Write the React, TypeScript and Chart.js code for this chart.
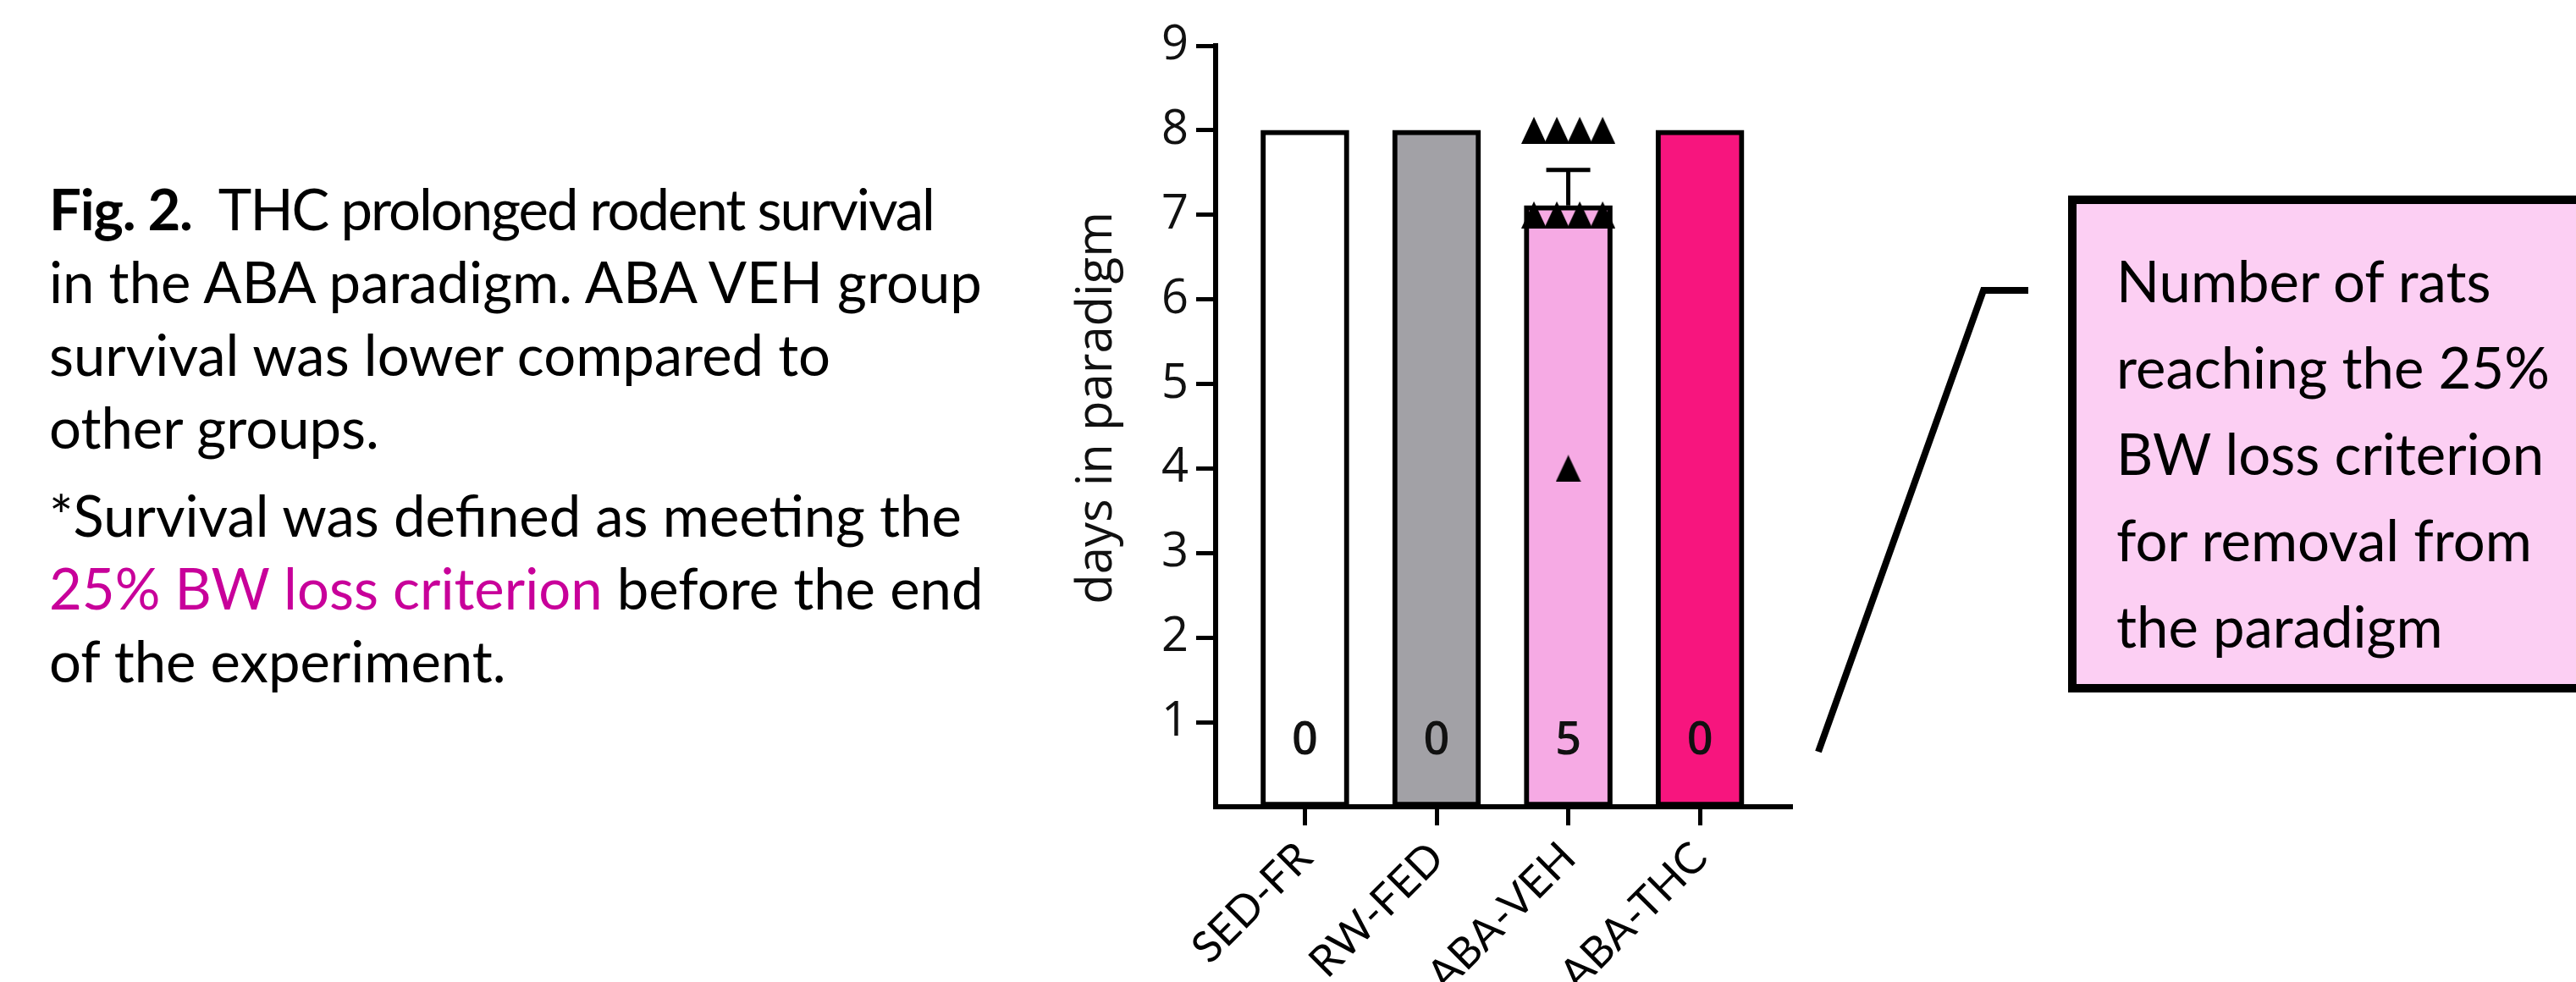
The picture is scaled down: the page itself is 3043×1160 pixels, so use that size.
import React, { useEffect, useRef } from 'react';
import { Chart, registerables } from 'chart.js';

Chart.register(...registerables);

// ---------- data ----------
const categories = ['SED-FR', 'RW-FED', 'ABA-VEH', 'ABA-THC'];
const meanDays = [8, 8, 7.11, 8];
const semDays = [0, 0, 0.42, 0];
const removedCounts = [0, 0, 5, 0];
const abaVehIndex = 2;
const abaVehDays = [8, 8, 8, 8, 7, 7, 7, 7, 4];
const yTickValues = [1, 2, 3, 4, 5, 6, 7, 8, 9];
const yAxisTitle = 'days in paradigm';

const captionLines = [
  'in the ABA paradigm. ABA VEH group',
  'survival was lower compared to',
  'other groups.',
];
const captionFirstBold = 'Fig. 2.';
const captionFirstRest = 'THC prolonged rodent survival';
const captionNote = '*Survival was defined as meeting the';
const captionPink = '25% BW loss criterion';
const captionPinkRest = ' before the end';
const captionLast = 'of the experiment.';

const boxLines = ['Number of rats', 'reaching the 25%', 'BW loss criterion', 'for removal from', 'the paradigm'];

const barColors = ['#FFFFFF', '#A2A1A6', '#F6AAE4', '#F7157E'];

function spreadPoints(values: number[], center: number) {
  const counts = new Map<number, number>();
  values.forEach((v) => counts.set(v, (counts.get(v) || 0) + 1));
  const seen = new Map<number, number>();
  return values.map((v) => {
    const n = counts.get(v) as number;
    const k = seen.get(v) || 0;
    seen.set(v, k + 1);
    return { x: center + (k - (n - 1) / 2) * 0.174, y: v };
  });
}

function makeTriangle(): HTMLCanvasElement {
  const c = document.createElement('canvas');
  c.width = 30;
  c.height = 32;
  const g = c.getContext('2d') as CanvasRenderingContext2D;
  g.fillStyle = '#000';
  g.beginPath();
  g.moveTo(15, 0);
  g.lineTo(30, 32);
  g.lineTo(0, 32);
  g.closePath();
  g.fill();
  return c;
}

const overlayPlugin = {
  id: 'overlay',
  afterDatasetsDraw(chart: any) {
    const ctx = chart.ctx;
    const xs = chart.scales.x;
    const ys = chart.scales.y;
    ctx.save();
    ctx.strokeStyle = '#000';
    ctx.lineWidth = 5;
    meanDays.forEach((m, i) => {
      const e = semDays[i];
      if (!e) return;
      const x = xs.getPixelForValue(i);
      const y0 = ys.getPixelForValue(m);
      const y1 = ys.getPixelForValue(m + e);
      ctx.beginPath();
      ctx.moveTo(x, y0);
      ctx.lineTo(x, y1);
      ctx.moveTo(x - 26, y1);
      ctx.lineTo(x + 26, y1);
      ctx.stroke();
    });
    ctx.fillStyle = '#111';
    ctx.font = '600 54px "Open Sans"';
    ctx.textAlign = 'center';
    ctx.textBaseline = 'alphabetic';
    removedCounts.forEach((c, i) => {
      ctx.fillText(String(c), xs.getPixelForValue(i), chart.chartArea.bottom - 62);
    });
    ctx.restore();
  },
  afterDraw(chart: any) {
    const ctx = chart.ctx;
    const ca = chart.chartArea;
    ctx.save();
    ctx.translate(ca.left - 140, ca.top + (ca.bottom - ca.top) * 0.476);
    ctx.rotate(-Math.PI / 2);
    ctx.fillStyle = '#111';
    ctx.font = '58px "Open Sans"';
    ctx.textAlign = 'center';
    ctx.textBaseline = 'middle';
    ctx.fillText(yAxisTitle, 0, 0);
    ctx.restore();
  },
};

export default function App() {
  const canvasRef = useRef<HTMLCanvasElement | null>(null);

  useEffect(() => {
    const canvas = canvasRef.current;
    if (!canvas) return;
    const points = spreadPoints(abaVehDays, abaVehIndex);
    const chart = new Chart(canvas, {
      type: 'bar',
      data: {
        datasets: [
          {
            type: 'scatter',
            data: points,
            pointStyle: makeTriangle(),
            pointRadius: 16,
            order: 0,
          } as any,
          {
            type: 'bar',
            data: meanDays.map((v, i) => ({ x: i, y: v })),
            backgroundColor: barColors,
            borderColor: '#000',
            borderWidth: 6,
            borderSkipped: false,
            barThickness: 104,
            order: 1,
          } as any,
        ],
      },
      options: {
        responsive: false,
        animation: false,
        layout: { padding: { left: 1268, top: 54, right: 926, bottom: 0 } },
        plugins: { legend: { display: false }, tooltip: { enabled: false } },
        scales: {
          x: {
            type: 'linear',
            min: -0.678,
            max: 3.7,
            offset: false,
            afterBuildTicks: (s: any) => {
              s.ticks = categories.map((_, i) => ({ value: i }));
            },
            afterFit: (s: any) => {
              s.height = 207;
            },
            grid: {
              offset: false,
              display: true,
              drawOnChartArea: false,
              drawTicks: true,
              tickLength: 22,
              tickWidth: 5,
              tickColor: '#000',
            },
            border: { display: true, color: '#000', width: 6 },
            ticks: {
              autoSkip: false,
              minRotation: 45,
              maxRotation: 45,
              padding: 8,
              color: '#000',
              font: { family: 'Lato', size: 51 },
              callback: (v: any) => categories[v] ?? '',
            },
          },
          y: {
            type: 'linear',
            min: 0,
            max: 9,
            afterBuildTicks: (s: any) => {
              s.ticks = yTickValues.map((v) => ({ value: v }));
            },
            afterFit: (s: any) => {
              s.width = 168;
            },
            grid: {
              display: true,
              drawOnChartArea: false,
              drawTicks: true,
              tickLength: 23,
              tickWidth: 5,
              tickColor: '#000',
            },
            border: { display: true, color: '#000', width: 6 },
            ticks: {
              padding: 9,
              color: '#111',
              font: { family: 'Open Sans', size: 56 },
            },
          },
        },
      } as any,
      plugins: [overlayPlugin],
    });
    return () => chart.destroy();
  }, []);

  const capFont: React.CSSProperties = {
    fontFamily: 'Lato, "Open Sans", sans-serif',
    fontSize: 67,
    color: '#000',
    whiteSpace: 'nowrap',
  };
  const lineH = 86;
  const capTop = 203;

  return (
    <div
      style={{
        position: 'absolute',
        left: 0,
        top: 0,
        width: 3043,
        height: 1160,
        overflow: 'hidden',
        background: '#fff',
      }}
    >
      <div style={{ ...capFont, position: 'absolute', left: 58, top: capTop, lineHeight: `${lineH}px` }}>
        <div>
          <b style={{ letterSpacing: -1.2 }}>{captionFirstBold}</b>
          <span style={{ marginLeft: 31, letterSpacing: -2.0 }}>{captionFirstRest}</span>
        </div>
        {captionLines.map((l) => (
          <div key={l}>{l}</div>
        ))}
        <div style={{ marginTop: 18 }}>{captionNote}</div>
        <div>
          <span style={{ color: '#C8009A' }}>{captionPink}</span>
          {captionPinkRest}
        </div>
        <div>{captionLast}</div>
      </div>

      <svg
        width={3043}
        height={1160}
        style={{ position: 'absolute', left: 0, top: 0 }}
      >
        <polyline
          points="2148,888 2343,343 2396,343"
          fill="none"
          stroke="#000"
          strokeWidth={8}
          strokeLinejoin="miter"
        />
      </svg>

      <div
        style={{
          position: 'absolute',
          left: 2443,
          top: 231,
          width: 700,
          height: 587,
          boxSizing: 'border-box',
          border: '10px solid #000',
          background: '#FCCFF3',
        }}
      />
      <div
        style={{
          ...capFont,
          position: 'absolute',
          left: 2500,
          top: 280,
          lineHeight: '102px',
        }}
      >
        {boxLines.map((l) => (
          <div key={l}>{l}</div>
        ))}
      </div>

      <canvas
        ref={canvasRef}
        width={3043}
        height={1160}
        style={{ position: 'absolute', left: 0, top: 0, width: 3043, height: 1160 }}
      />
    </div>
  );
}
